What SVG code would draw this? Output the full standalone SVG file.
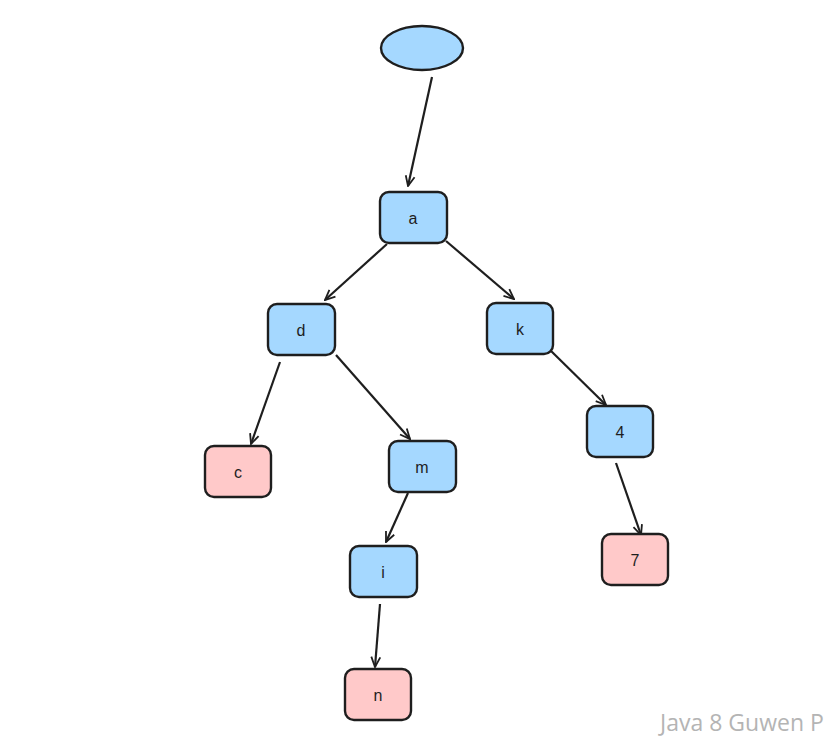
<svg xmlns="http://www.w3.org/2000/svg" width="836" height="744" viewBox="0 0 836 744">
<style>
.n rect, .n ellipse { stroke:#1e1e1e; stroke-width:2.4; }
.b { fill:#a5d8ff; }
.p { fill:#ffc9c9; }
.n text { font-family:"Liberation Sans", Arial, sans-serif; font-size:16px; fill:#1e1e1e; text-anchor:middle; dominant-baseline:central; }
.e line { stroke:#1e1e1e; stroke-width:2.2; fill:none; marker-end:url(#ah); }
.wm { font-family:"Open Sans", "Liberation Sans", sans-serif; font-size:23px; fill:#b4b4b4; }
</style>
<defs>
<marker id="ah" viewBox="0 0 12 12" refX="11" refY="6" markerWidth="12" markerHeight="12" markerUnits="userSpaceOnUse" orient="auto">
<polyline points="1,1.5 11,6 1,10.5" fill="none" stroke="#1e1e1e" stroke-width="1.8"/>
</marker>
</defs>
<rect width="836" height="744" fill="#ffffff"/>
<g class="e" id="connectors">
<line x1="432" y1="77" x2="408" y2="186"/>
<line x1="387" y1="244" x2="325" y2="300"/>
<line x1="446" y1="241" x2="514" y2="299"/>
<line x1="280" y1="362" x2="251" y2="444"/>
<line x1="336" y1="355" x2="410" y2="439"/>
<line x1="548" y1="348" x2="606" y2="405"/>
<line x1="408" y1="493" x2="386" y2="542"/>
<line x1="616" y1="463" x2="641" y2="535"/>
<line x1="380" y1="604" x2="375" y2="667"/>
</g>
<g class="n" id="root"><ellipse class="b" cx="422" cy="48" rx="41" ry="22"/></g>
<g class="n" id="node-a"><rect class="b" x="380" y="192" width="67" height="51" rx="9"/><text x="413" y="218">a</text></g>
<g class="n" id="node-d"><rect class="b" x="268" y="304" width="67" height="51" rx="9"/><text x="301" y="330">d</text></g>
<g class="n" id="node-k"><rect class="b" x="487" y="303" width="66" height="51" rx="9"/><text x="520" y="329">k</text></g>
<g class="n" id="node-c"><rect class="p" x="205" y="446" width="66" height="51" rx="9"/><text x="238" y="472">c</text></g>
<g class="n" id="node-m"><rect class="b" x="389" y="441" width="67" height="51" rx="9"/><text x="422" y="467">m</text></g>
<g class="n" id="node-4"><rect class="b" x="587" y="406" width="66" height="51" rx="9"/><text x="620" y="432">4</text></g>
<g class="n" id="node-i"><rect class="b" x="350" y="546" width="67" height="51" rx="9"/><text x="383" y="572">i</text></g>
<g class="n" id="node-7"><rect class="p" x="602" y="534" width="66" height="51" rx="9"/><text x="635" y="560">7</text></g>
<g class="n" id="node-n"><rect class="p" x="345" y="669" width="66" height="51" rx="9"/><text x="378" y="695">n</text></g>
<text class="wm" x="660" y="731">Java 8 Guwen P</text>
</svg>
